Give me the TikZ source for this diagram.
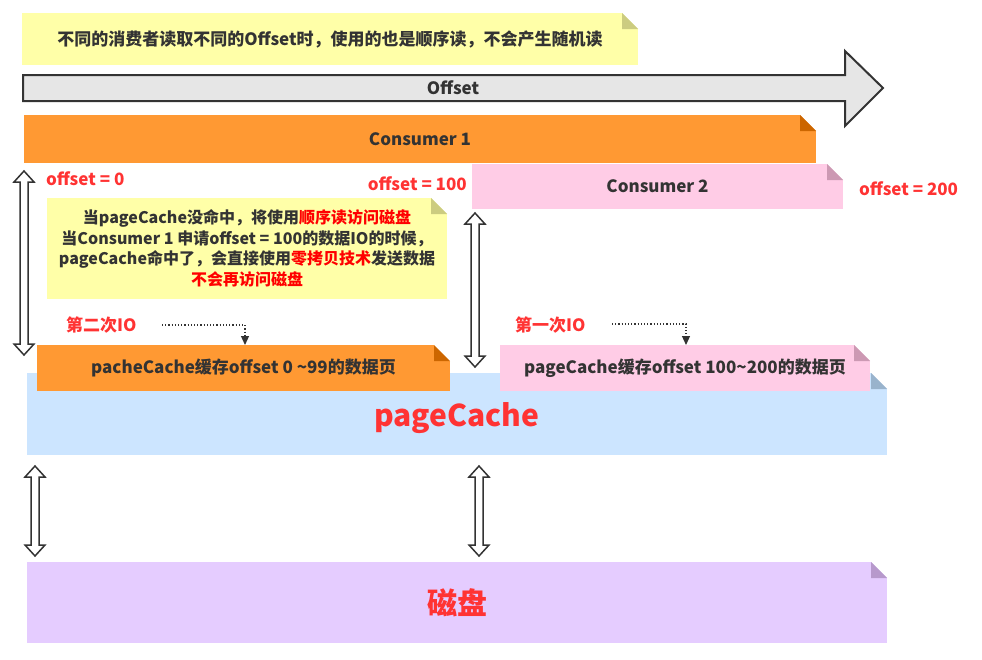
\documentclass[tikz,border=0pt]{standalone}
\usepackage{fontspec}
\setmainfont{Noto Sans CJK SC}
\usetikzlibrary{positioning, arrows.meta, calc}
\definecolor{txtdark}{HTML}{333333}
\definecolor{linedark}{HTML}{333333}
\definecolor{lblred}{HTML}{FF3333}
\definecolor{hitred}{HTML}{FF0000}
\definecolor{axisgray}{HTML}{E6E6E6}
\definecolor{notey}{HTML}{FFFFA8}
\definecolor{noteyfold}{HTML}{CCCC80}
\definecolor{orange1}{HTML}{FF9933}
\definecolor{orange1fold}{HTML}{CC6600}
\definecolor{pink1}{HTML}{FFCCE6}
\definecolor{pink1fold}{HTML}{CC99B3}
\definecolor{blue1}{HTML}{CCE5FF}
\definecolor{blue1fold}{HTML}{99B3CC}
\definecolor{purple1}{HTML}{E5CCFF}
\definecolor{purple1fold}{HTML}{B799CC}

\begin{document}
\begin{tikzpicture}[x=1pt, y=-1pt,
    notebox/.style 2 args={fill=#1, inner sep=0pt, outer sep=0pt, anchor=north west,
      path picture={
        \fill[white] ([xshift=-16pt]path picture bounding box.north east) -- (path picture bounding box.north east) -- ([yshift=-16pt]path picture bounding box.north east) -- cycle;
        \fill[#2] ([xshift=-16pt]path picture bounding box.north east) -- ([xshift=-16pt,yshift=-16pt]path picture bounding box.north east) -- ([yshift=-16pt]path picture bounding box.north east) -- cycle;}},
    txt/.style={inner sep=0pt, font=\fontsize{17}{20}\selectfont\bfseries, text=txtdark},
    redtxt/.style={inner sep=0pt, font=\fontsize{17}{20}\selectfont\bfseries, text=lblred},
    bigtxt/.style={font=\fontsize{30}{34}\selectfont\bfseries, text=lblred},
    hollow/.style={draw=linedark, line width=1.5pt, fill=white}]
    \useasboundingbox (0,0) rectangle (982,659);
    % Top remark
    \node[notebox={notey}{noteyfold}, minimum width=616pt, minimum height=52pt, txt] (remark) at (22,13) {不同的消费者读取不同的Offset时，使用的也是顺序读，不会产生随机读};
    % Offset axis
    \draw[draw=linedark, line width=2pt, fill=axisgray] (23,75) -- (845,75) -- (845,51) -- (883,88) -- (845,126) -- (845,101) -- (23,101) -- cycle;
    \node[txt] (offsetlbl) at (453,88) {Offset};
    % Consumers
    \node[notebox={orange1}{orange1fold}, minimum width=792pt, minimum height=48pt, txt] (consumer1) at (24,115) {Consumer 1};
    \node[notebox={pink1}{pink1fold}, minimum width=371pt, minimum height=45pt, txt] (consumer2) at (472,164) {Consumer 2};
    % Offsets read by the consumers
    \node[redtxt, anchor=west] (off0) at (46,179) {offset = 0};
    \node[redtxt, anchor=east] (off100) at (467,184) {offset = 100};
    \node[redtxt, anchor=west] (off200) at (859,189) {offset = 200};
    % Explanation
    \node[notebox={notey}{noteyfold}, minimum width=400pt, minimum height=101pt, txt, font=\fontsize{16}{20.5}\selectfont\bfseries, align=center] (explain) at (47,198) {当pageCache没命中，将使用\textcolor{hitred}{顺序读访问磁盘}\\当Consumer 1 申请offset = 100的数据IO的时候，\\pageCache命中了，会直接使用\textcolor{hitred}{零拷贝技术}发送数据\\\textcolor{hitred}{不会再访问磁盘}};
    % Page cache
    \node[notebox={blue1}{blue1fold}, minimum width=860pt, minimum height=82pt, bigtxt, text height=24pt, text depth=0pt] (pagecache) at (27,373) {pageCache};
    \node[notebox={orange1}{orange1fold}, minimum width=413pt, minimum height=46pt, txt] (page0) at (37,345) {pacheCache缓存offset 0 \textasciitilde99的数据页};
    \node[notebox={pink1}{pink1fold}, minimum width=370pt, minimum height=46pt, txt] (page100) at (500,345) {pageCache缓存offset 100\textasciitilde200的数据页};
    % Disk
    \node[notebox={purple1}{purple1fold}, minimum width=860pt, minimum height=81pt, bigtxt] (disk) at (27,562) {磁盘};
    % IO order
    \node[redtxt, anchor=west] (io2) at (66,325) {第二次IO};
    \node[redtxt, anchor=west] (io1) at (515,325) {第一次IO};
    \coordinate (io2from) at (162,325);
    \coordinate (io2bend) at (245,325);
    \coordinate (io1from) at (612,324);
    \coordinate (io1bend) at (686,324);
    \draw[linedark, line width=1.2pt, dash pattern=on 1.2pt off 2pt, -{Triangle[length=9pt, width=8pt]}] (io2from) -- (io2bend) -- (io2bend |- page0.north);
    \draw[linedark, line width=1.2pt, dash pattern=on 1.2pt off 2pt, -{Triangle[length=9pt, width=8pt]}] (io1from) -- (io1bend) -- (io1bend |- page100.north);
    % Double arrows
    \foreach \ax/\ya/\yb in {24/171/355, 475/213/367, 35/466/556, 479/466/556} {
        \draw[hollow] (\ax,\ya) -- ++(10,11) -- ++(-6,0) -- (\ax+4,\yb-11) -- ++(6,0) -- (\ax,\yb) -- ++(-10,-11) -- ++(6,0) -- (\ax-4,\ya+11) -- ++(-6,0) -- cycle;
    }
\end{tikzpicture}
\end{document}
